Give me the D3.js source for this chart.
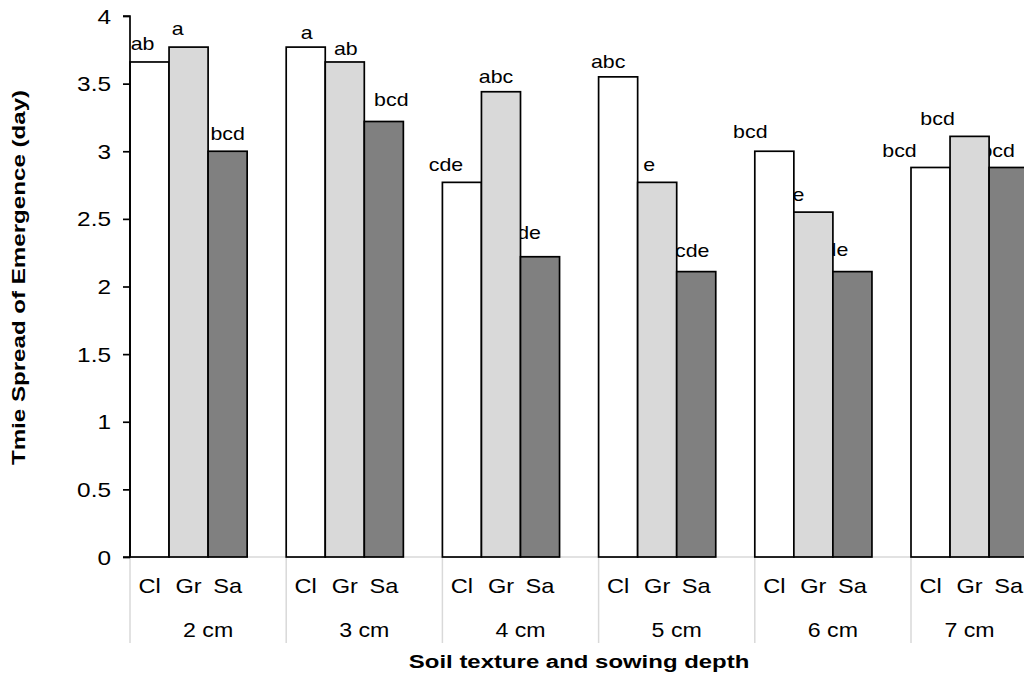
<!DOCTYPE html>
<html>
<head>
<meta charset="utf-8">
<script src="https://cdn.jsdelivr.net/npm/d3@7"></script>
<style>
  html, body { margin: 0; padding: 0; background: #fff; }
  svg { display: block; font-family: "Liberation Sans", Arial, sans-serif; }
</style>
</head>
<body>
<svg id="chart" width="1024" height="677"></svg>
<script>
// ---- data ----
const depths = ["2 cm", "3 cm", "4 cm", "5 cm", "6 cm", "7 cm"];
const textures = ["Cl", "Gr", "Sa"];
const valuesCl = [3.66, 3.77, 2.77, 3.55, 3.00, 2.88];
const valuesGr = [3.77, 3.66, 3.44, 2.77, 2.55, 3.11];
const valuesSa = [3.00, 3.22, 2.22, 2.11, 2.11, 2.88];
const lettersCl = ["ab", "a", "cde", "abc", "bcd", "bcd"];
const lettersGr = ["a", "ab", "abc", "e", "e", "bcd"];
const lettersSa = ["bcd", "bcd", "de", "cde", "de", "bcd"];
const yTicks = [0, 0.5, 1, 1.5, 2, 2.5, 3, 3.5, 4];
const xTitle = "Soil texture and sowing depth";
const yTitle = "Tmie Spread of Emergence (day)";

// ---- layout (manual label nudges, as in the source chart) ----
const labelNudge = {
  Cl: [[-7,-12],[1,-8],[-16,-11],[-10,-9],[-24,-13],[-31,-10]],
  Gr: [[-11,-12],[1,-7],[-5,-9],[-8,-11],[-15,-11],[-32,-11]],
  Sa: [[0,-11],[7.5,-15],[-11,-18],[-4,-15],[-16,-16],[-11,-10]]
};
const fills = { Cl: "#ffffff", Gr: "#d9d9d9", Sa: "#808080" };

const seriesVals = { Cl: valuesCl, Gr: valuesGr, Sa: valuesSa };
const seriesLetters = { Cl: lettersCl, Gr: lettersGr, Sa: lettersSa };

(function draw() {
const svg = d3.select("#chart");
const plotLeft = 130, plotTop = 16, plotBottom = 557;
const slotW = 39.05;
const SX = 1.22; // horizontal text stretch of the source rendering

// place text with a translate + horizontal stretch
function place(sel, fx, fy, sx) {
  sel.attr("transform", (d, i, n) => `translate(${fx(d, i, n)},${fy(d, i, n)}) scale(${sx},1)`);
  return sel;
}

// slots: each depth has Cl, Gr, Sa and a blank spacer (except the last)
const slots = [];
depths.forEach((d, i) => {
  textures.forEach(t => slots.push(d + "|" + t));
  if (i < depths.length - 1) slots.push(d + "|_");
});
const x = d3.scaleBand().domain(slots).range([plotLeft, plotLeft + slots.length * slotW]).padding(0);
const y = d3.scaleLinear().domain([0, 4]).range([plotBottom, plotTop]);

const data = [];
depths.forEach((d, i) => textures.forEach(t => data.push({
  depth: d, tex: t, i, v: seriesVals[t][i], lab: seriesLetters[t][i]
})));

// x baseline (light gray)
svg.append("line")
  .attr("x1", plotLeft).attr("x2", 1024).attr("y1", plotBottom).attr("y2", plotBottom)
  .attr("stroke", "#d9d9d9").attr("stroke-width", 1.5);

// group separators
const groupStart = d => x(d + "|Cl");
depths.forEach(d => {
  svg.append("line")
    .attr("x1", groupStart(d)).attr("x2", groupStart(d))
    .attr("y1", plotBottom).attr("y2", 643)
    .attr("stroke", "#d9d9d9").attr("stroke-width", 1.5);
});

// bar labels (drawn under bars, as in source)
place(svg.append("g").selectAll("text").data(data).join("text")
  .attr("text-anchor", "middle")
  .attr("font-size", 17.5)
  .attr("fill", "#000")
  .text(d => d.lab),
  d => x(d.depth + "|" + d.tex) + x.bandwidth() / 2 + labelNudge[d.tex][d.i][0],
  d => y(d.v) + labelNudge[d.tex][d.i][1], SX);

// bars
svg.append("g").selectAll("rect").data(data).join("rect")
  .attr("x", d => x(d.depth + "|" + d.tex))
  .attr("y", d => y(d.v))
  .attr("width", x.bandwidth())
  .attr("height", d => plotBottom - y(d.v))
  .attr("fill", d => fills[d.tex])
  .attr("stroke", "#000")
  .attr("stroke-width", 1.7);

// y axis
const yAxis = d3.axisLeft(y).tickValues(yTicks).tickSize(7).tickPadding(12)
  .tickFormat(d3.format("~g"));
const gy = svg.append("g").attr("transform", `translate(${plotLeft},0)`).call(yAxis);
gy.select(".domain").attr("stroke", "#000").attr("stroke-width", 1.7).attr("d", `M-7,${plotTop}H0V${plotBottom}H-7`);
gy.selectAll(".tick line").attr("stroke", "#000").attr("stroke-width", 1.7);
gy.selectAll(".tick text")
  .attr("font-size", 20).attr("fill", "#000")
  .attr("font-family", "Liberation Sans, Arial, sans-serif")
  .attr("x", null).attr("dy", "0.35em")
  .attr("transform", `translate(-19,0) scale(${SX},1)`);

// category labels
place(svg.append("g").selectAll("text").data(data).join("text")
  .attr("text-anchor", "middle")
  .attr("font-size", 20.5)
  .text(d => d.tex),
  d => x(d.depth + "|" + d.tex) + x.bandwidth() / 2, () => 593, 1.15);

// depth labels, centered on each group's span (incl. spacer)
const depthSpan = depths.map((d, i) => {
  const s = groupStart(d);
  const e = (i < depths.length - 1) ? groupStart(depths[i + 1]) : x(d + "|Sa") + x.bandwidth();
  return { d, c: (s + e) / 2 };
});
place(svg.append("g").selectAll("text").data(depthSpan).join("text")
  .attr("text-anchor", "middle").attr("font-size", 20.5)
  .text(o => o.d),
  o => o.c, () => 637, 1.13);

// axis titles
const plotRight = x(depths[depths.length - 1] + "|Sa") + x.bandwidth();
svg.append("text")
  .attr("transform", `translate(${(plotLeft + plotRight) / 2},668) scale(1.26,1)`)
  .attr("text-anchor", "middle").attr("font-size", 19).attr("font-weight", "bold")
  .text(xTitle);
svg.append("text")
  .attr("transform", `translate(25,${(plotTop + plotBottom) / 2 - 9}) rotate(-90) scale(1.27,1)`)
  .attr("text-anchor", "middle").attr("font-size", 19).attr("font-weight", "bold")
  .text(yTitle);
})();
</script>
</body>
</html>
